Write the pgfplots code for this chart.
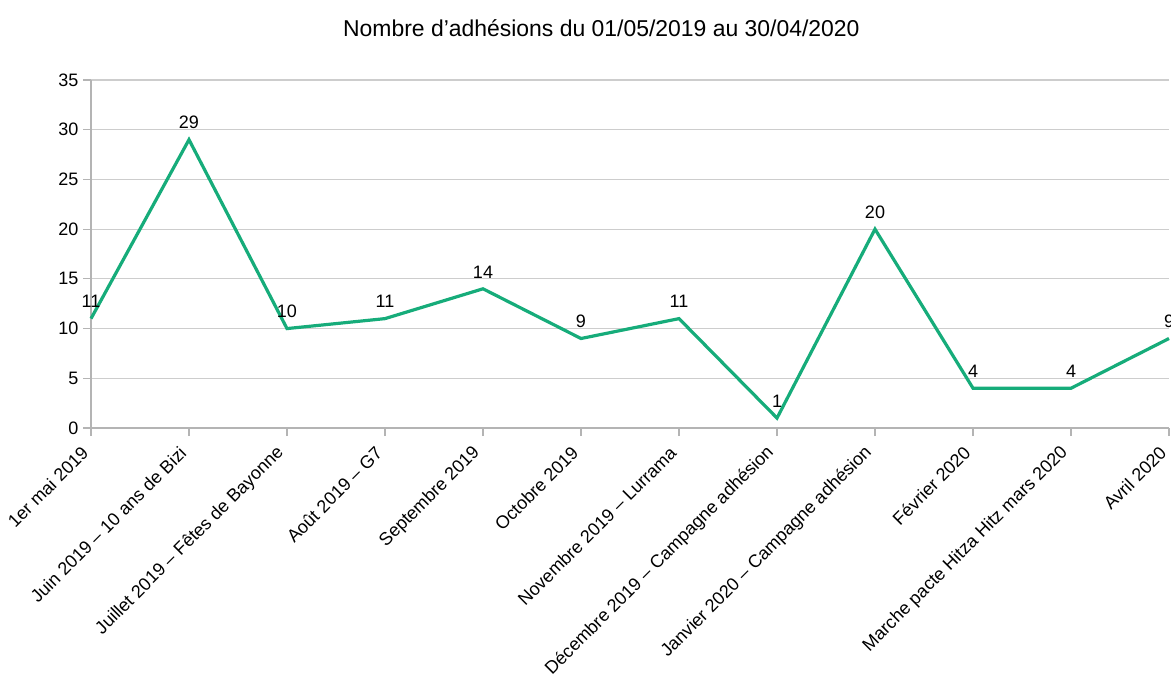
\documentclass[border=0pt]{standalone}
\usepackage{fontspec}
\setmainfont{Liberation Sans}
\usepackage{pgfplots}
\pgfplotsset{compat=1.18}
\definecolor{serie}{RGB}{22,172,122}
\definecolor{grille}{RGB}{205,205,205}
\definecolor{axe}{RGB}{180,180,180}
\begin{document}
\begin{tikzpicture}
\useasboundingbox (0,0) rectangle (878.25pt,508.5pt);
\node[font=\fontsize{17.2}{19}\selectfont] at (451pt,487.5pt) {Nombre d'adhésions du 01/05/2019 au 30/04/2020};
\begin{axis}[
    at={(68.25pt,187.5pt)}, anchor=south west,
    scale only axis,
    width=808.5pt, height=261pt,
    xmin=0, xmax=11, ymin=0, ymax=35,
    ytick={0,5,...,35},
    xtick={0,...,11},
    xticklabels={
        1er mai 2019,
        Juin 2019 – 10 ans de Bizi,
        Juillet 2019 – Fêtes de Bayonne,
        Août 2019 – G7,
        Septembre 2019,
        Octobre 2019,
        Novembre 2019 – Lurrama,
        Décembre 2019 – Campagne adhésion,
        Janvier 2020 – Campagne adhésion,
        Février 2020,
        Marche pacte Hitza Hitz mars 2020,
        Avril 2020},
    x tick label style={xshift=-2pt, yshift=-8pt, rotate=45, anchor=east},
    tick label style={font=\fontsize{13.5}{15}\selectfont},
    /pgf/number format/assume math mode=true,
    axis x line*=bottom, axis y line*=left,
    axis line style={axe, line width=0.8pt},
    ymajorgrids, grid style={grille, line width=0.8pt},
    tick style={axe, line width=0.8pt},
    tick align=outside, major tick length=6pt,
    clip=false,
    nodes near coords,
    every node near coord/.append style={font=\fontsize{13.5}{15}\selectfont, black, yshift=3.5pt},
]
\addplot[serie, line width=2.4pt, nodes near coords] coordinates {
    (0,11) (1,29) (2,10) (3,11) (4,14) (5,9)
    (6,11) (7,1) (8,20) (9,4) (10,4) (11,9)
};
\end{axis}
\end{tikzpicture}
\end{document}
